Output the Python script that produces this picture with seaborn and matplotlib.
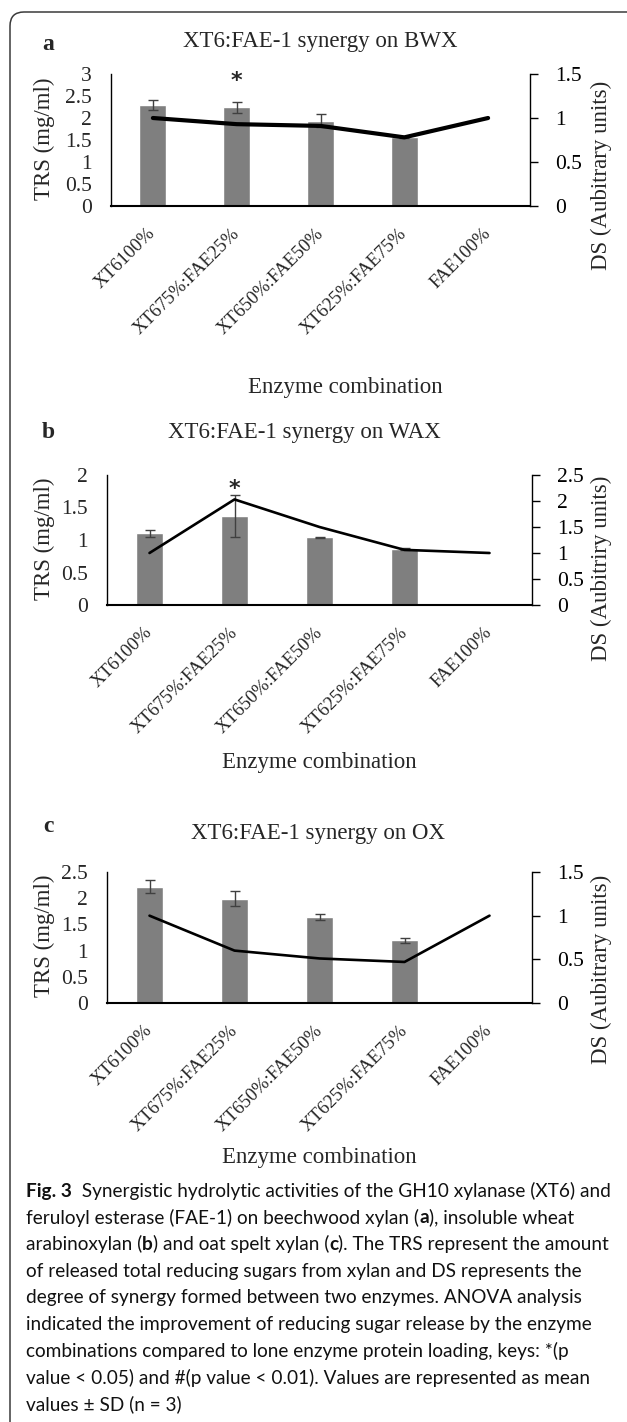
import numpy as np
import pandas as pd
import matplotlib
matplotlib.use("Agg")
import matplotlib.pyplot as plt
import matplotlib.transforms as mtrans
from matplotlib.patches import FancyBboxPatch
import seaborn as sns

sns.set_style("white")
plt.rcParams['font.family'] = ['Liberation Serif', 'DejaVu Serif']

# categories shared by all three panels
categories = ["XT6100%", "XT675%:FAE25%", "XT650%:FAE50%", "XT625%:FAE75%", "FAE100%"]

# (a) beechwood xylan
trs_bwx = [2.30, 2.24, 1.94, 1.56, 0.0]
sd_bwx = [0.12, 0.13, 0.15, 0.02, 0.0]
ds_bwx = [1.0, 0.93, 0.91, 0.78, 1.0]
star_bwx = [None, 2.83, None, None, None]

# (b) insoluble wheat arabinoxylan
trs_wax = [1.10, 1.37, 1.04, 0.86, 0.0]
sd_wax = [0.05, 0.32, 0.01, 0.02, 0.0]
ds_wax = [1.0, 2.03, 1.50, 1.06, 1.0]
star_wax = [None, 1.78, None, None, None]

# (c) oat spelt xylan
trs_ox = [2.22, 1.99, 1.64, 1.20, 0.0]
sd_ox = [0.12, 0.14, 0.06, 0.05, 0.0]
ds_ox = [1.0, 0.60, 0.51, 0.47, 1.0]
star_ox = [None, None, None, None, None]

trs_ticks_bwx = ["0", "0.5", "1", "1.5", "2", "2.5", "3"]
ds_ticks_bwx = ["0", "0.5", "1", "1.5"]
trs_ticks_wax = ["0", "0.5", "1", "1.5", "2"]
ds_ticks_wax = ["0", "0.5", "1", "1.5", "2", "2.5"]
trs_ticks_ox = ["0", "0.5", "1", "1.5", "2", "2.5"]
ds_ticks_ox = ["0", "0.5", "1", "1.5"]

caption_lines = [
    [("Fig. 3", True), ("  Synergistic hydrolytic activities of the GH10 xylanase (XT6) and", False)],
    [("feruloyl esterase (FAE-1) on beechwood xylan (", False), ("a", True), ("), insoluble wheat", False)],
    [("arabinoxylan (", False), ("b", True), (") and oat spelt xylan (", False), ("c", True),
     ("). The TRS represent the amount", False)],
    [("of released total reducing sugars from xylan and DS represents the", False)],
    [("degree of synergy formed between two enzymes. ANOVA analysis", False)],
    [("indicated the improvement of reducing sugar release by the enzyme", False)],
    [("combinations compared to lone enzyme protein loading, keys: *(p", False)],
    [("value < 0.05) and #(p value < 0.01). Values are represented as mean", False)],
    [("values \u00b1 SD (n = 3)", False)],
]

W, H = 627, 1422
fig = plt.figure(figsize=(W / 100, H / 100), dpi=100)

BAR = "#7f7f7f"


def px_axes(x0, y0, x1, y1):
    return fig.add_axes([x0 / W, 1 - y1 / H, (x1 - x0) / W, (y1 - y0) / H])


def panel(box, letter, title, trs, sd, ds, stars, trs_ticks, ds_ticks,
          ds_label, lw, xlabel_pos, ds_label_y):
    x0, y0, x1, y1 = box
    ax = px_axes(*box)
    df = pd.DataFrame({"combo": categories, "trs": trs})
    sns.barplot(data=df, x="combo", y="trs", color=BAR, width=0.32,
                errorbar=None, ax=ax, saturation=1)
    ax.errorbar(np.arange(len(categories)), trs, yerr=sd, fmt="none",
                ecolor="#404040", elinewidth=1, capsize=3.5, capthick=1)
    for i, s in enumerate(stars):
        if s is not None:
            ax.text(i, s, "*", ha="center", va="center", fontsize=16,
                    fontweight="bold", family=["DejaVu Sans"])
    tvals = [float(t) for t in trs_ticks]
    ax.set_ylim(0, tvals[-1])
    ax.set_yticks(tvals)
    ax.set_yticklabels(trs_ticks, fontsize=15.5)
    ax.set_xlim(-0.5, len(categories) - 0.5)
    ax.set_xticks(np.arange(len(categories)))
    ax.set_xticklabels(categories, rotation=45, ha="right", va="center",
                       rotation_mode="anchor", fontsize=13.5)
    off = mtrans.ScaledTranslation(9 / 100, 0, fig.dpi_scale_trans)
    for lab in ax.get_xticklabels():
        lab.set_transform(lab.get_transform() + off)
    ax.tick_params(axis="x", length=0, pad=18)
    ax.tick_params(axis="y", length=0, pad=14)
    ax.set_xlabel("Enzyme combination", fontsize=16.5)
    ax.set_ylabel("TRS (mg/ml)", fontsize=16.5)
    ax.yaxis.set_label_coords((44 - x0) / (x1 - x0), 0.51)
    ax.yaxis.label.set(va="center", ha="center")
    ax.xaxis.set_label_coords((xlabel_pos[0] - x0) / (x1 - x0),
                              -(xlabel_pos[1] - y1) / (y1 - y0))
    ax.xaxis.label.set(va="center", ha="center")
    for side in ["top", "right"]:
        ax.spines[side].set_visible(False)
    ax.spines["left"].set_color("black")
    ax.spines["left"].set_linewidth(1.0)
    ax.spines["bottom"].set_color("black")
    ax.spines["bottom"].set_linewidth(1.5)

    ax2 = ax.twinx()
    sns.lineplot(x=np.arange(len(categories)), y=ds, ax=ax2, color="black",
                 linewidth=lw, sort=False, solid_capstyle="round")
    dvals = [float(t) for t in ds_ticks]
    ax2.set_ylim(0, dvals[-1])
    ax2.set_yticks(dvals)
    ax2.set_yticklabels(ds_ticks, fontsize=15.5)
    ax2.tick_params(axis="y", length=6, width=1, direction="out", pad=12, colors="black")
    ax2.set_ylabel(ds_label, fontsize=16.5)
    ax2.yaxis.set_label_coords((601 - x0) / (x1 - x0), ds_label_y)
    ax2.yaxis.label.set(va="center", ha="center")
    for side in ["top", "left", "bottom"]:
        ax2.spines[side].set_visible(False)
    ax2.spines["right"].set_color("black")
    ax2.spines["right"].set_linewidth(1.0)
    ax2.set_xlim(ax.get_xlim())

    fig.text(48 / W, 1 - letter[1] / H, letter[0], fontsize=17, fontweight="bold",
             ha="center", va="center")
    fig.text(title[1] / W, 1 - title[2] / H, title[0], fontsize=16.5,
             ha="center", va="center")
    return ax, ax2


panel((111, 74, 530, 206), ("a", 45), ("XT6:FAE-1 synergy on BWX", 320, 42),
      trs_bwx, sd_bwx, ds_bwx, star_bwx, trs_ticks_bwx, ds_ticks_bwx,
      "DS (Aubitrary units)", 3.0, (345, 388), 0.23)
panel((107, 475, 532, 605), ("b", 433), ("XT6:FAE-1 synergy on WAX", 304, 432),
      trs_wax, sd_wax, ds_wax, star_wax, trs_ticks_wax, ds_ticks_wax,
      "DS (Aubitriry units)", 1.9, (319, 762), 0.28)
panel((107, 872, 532, 1003), ("c", 826), ("XT6:FAE-1 synergy on OX", 318, 833),
      trs_ox, sd_ox, ds_ox, star_ox, trs_ticks_ox, ds_ticks_ox,
      "DS (Aubitrary units)", 1.9, (319, 1158), 0.26)

# outer rounded frame (partly clipped on the right / bottom like the source)
frame = FancyBboxPatch((10, -30), 660, 1422 - 12 + 30,
                       boxstyle="round,pad=0,rounding_size=14",
                       transform=mtrans.IdentityTransform(), fill=False,
                       edgecolor="#3a3a3a", linewidth=1.1)
fig.add_artist(frame)

# caption, drawn segment by segment so bold parts can sit inline
renderer = fig.canvas.get_renderer()
cap_size = 13.7
for k, parts in enumerate(caption_lines):
    x = 26.0
    y = H - (1191 + k * 26.7)
    for txt, bold in parts:
        t = fig.text(x, y, txt, transform=mtrans.IdentityTransform(),
                     fontsize=cap_size, fontweight="bold" if bold else "normal",
                     family=["Lato", "DejaVu Sans"], va="center", ha="left",
                     color="#111111")
        x += t.get_window_extent(renderer=renderer).width

fig.savefig("out.png", dpi=100)
